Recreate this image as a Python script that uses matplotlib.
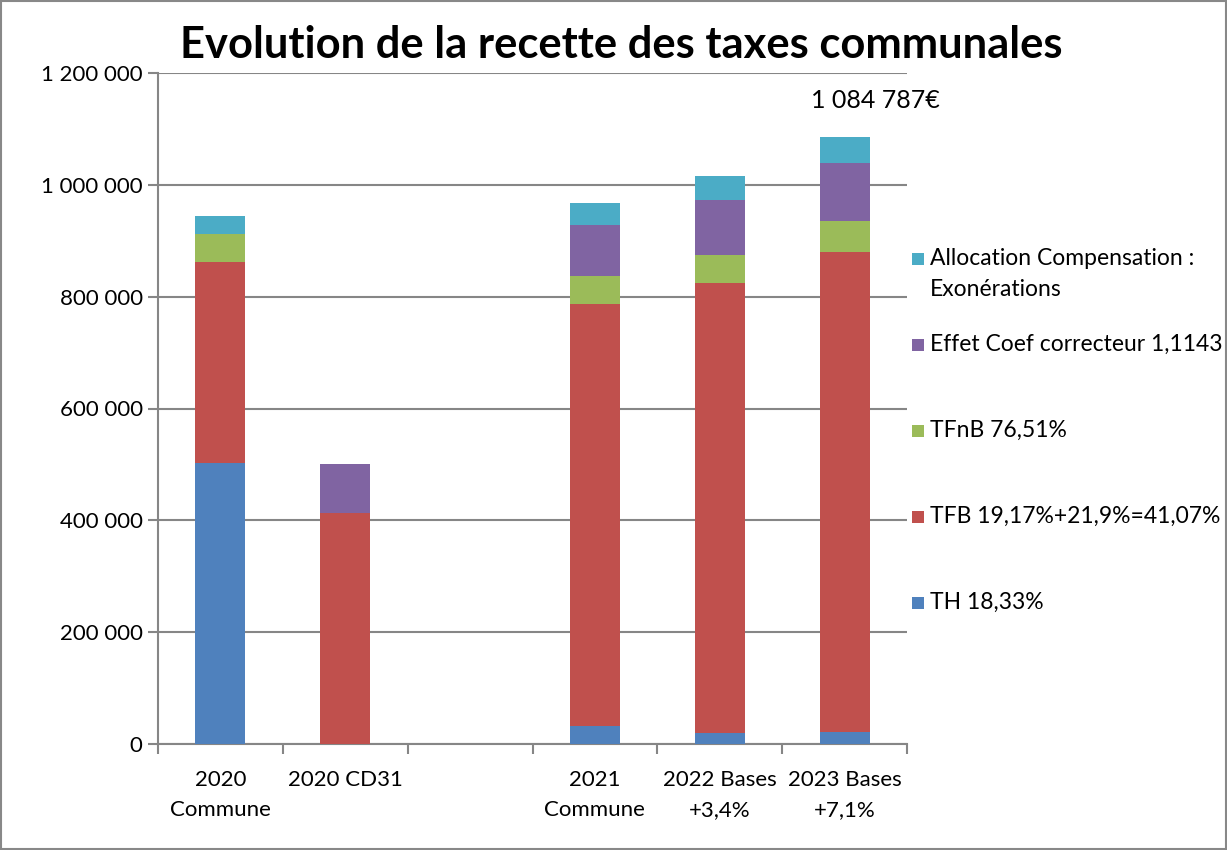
import matplotlib
matplotlib.use("Agg")
import matplotlib.pyplot as plt
from matplotlib.patches import Rectangle
from matplotlib.ticker import FuncFormatter, FixedLocator
import numpy as np

plt.rcParams['font.family'] = ['Lato', 'DejaVu Sans']

categories = ["2020\nCommune", "2020 CD31", "", "2021\nCommune", "2022 Bases\n+3,4%", "2023 Bases\n+7,1%"]
series_names = ["TH 18,33%", "TFB 19,17%+21,9%=41,07%", "TFnB 76,51%",
                "Effet Coef correcteur 1,1143", "Allocation Compensation :\nExonérations"]
th    = [502000, 0,      0, 32000,  19500,  22000]
tfb   = [360000, 413000, 0, 754000, 804500, 857000]
tfnb  = [50500,  0,      0, 50500,  50500,  56000]
coef  = [0,      88000,  0, 92000,  97500,  104500]
alloc = [31500,  0,      0, 39300,  43500,  45287]
colors = ["#4F81BD", "#C0504D", "#9BBB59", "#8064A2", "#4BACC6"]
total_label = "1 084 787€"

W, H = 1227, 850
fig = plt.figure(figsize=(W / 100, H / 100), dpi=100)
ax = fig.add_axes([158/W, 1-744/H, (907-158)/W, (744-73)/H])

x = np.arange(len(categories))
bottom = np.zeros(len(categories))
for vals, c in zip([th, tfb, tfnb, coef, alloc], colors):
    v = np.array(vals, dtype=float)
    ax.bar(x, v, width=0.4, bottom=bottom, color=c, zorder=3)
    bottom += v

ax.set_xlim(-0.5, len(categories) - 0.5)
ax.set_ylim(0, 1200000)
ax.set_yticks(np.arange(0, 1200001, 200000))
ax.yaxis.set_major_formatter(FuncFormatter(lambda v, p: f"{int(v):,}".replace(",", " ")))
ax.grid(axis='y', color='#868686', linewidth=1.5, zorder=0)

ax.xaxis.set_major_locator(FixedLocator(np.arange(-0.5, len(categories), 1)))
ax.xaxis.set_major_formatter(FuncFormatter(lambda v, p: ""))
ax.xaxis.set_minor_locator(FixedLocator(x))
ax.set_xticklabels(categories, minor=True)
ax.tick_params(axis='x', which='minor', length=0, labelsize=16, pad=19)
ax.tick_params(axis='x', which='major', length=7, width=1.5, color='#868686')
ax.tick_params(axis='y', length=7, width=1.5, color='#868686', labelsize=16, pad=4)
for lbl in ax.get_xticklabels(minor=True):
    lbl.set_linespacing(1.6)

for s in ['top', 'right']:
    ax.spines[s].set_visible(False)
for s in ['left', 'bottom']:
    ax.spines[s].set_color('#868686')
    ax.spines[s].set_linewidth(1.5)

last = len(categories) - 1
ax.annotate(total_label, xy=(x[last], bottom[last]), xytext=(22, 18),
            textcoords='offset points', ha='center', va='bottom', fontsize=18)

fig.text(621/W, 1-45/H, "Evolution de la recette des taxes communales",
         ha='center', va='center', fontsize=31.3, fontweight='bold')

# legend, drawn manually (reverse order, top = last series)
leg_y0, leg_step = 259, 86
for i, (name, c) in enumerate(zip(series_names[::-1], colors[::-1])):
    yc = leg_y0 + i * leg_step
    fig.add_artist(Rectangle((912/W, 1-(yc+6)/H), 12/W, 12/H, transform=fig.transFigure,
                             facecolor=c, edgecolor='none'))
    fig.text(930/W, 1-(yc-11)/H, name, ha='left', va='top', fontsize=16.5,
             linespacing=1.6)

fig.add_artist(Rectangle((0.001, 0.001), 0.998, 0.998, transform=fig.transFigure,
                         fill=False, edgecolor='#888888', linewidth=1.5))

fig.savefig("out.png", dpi=100)
